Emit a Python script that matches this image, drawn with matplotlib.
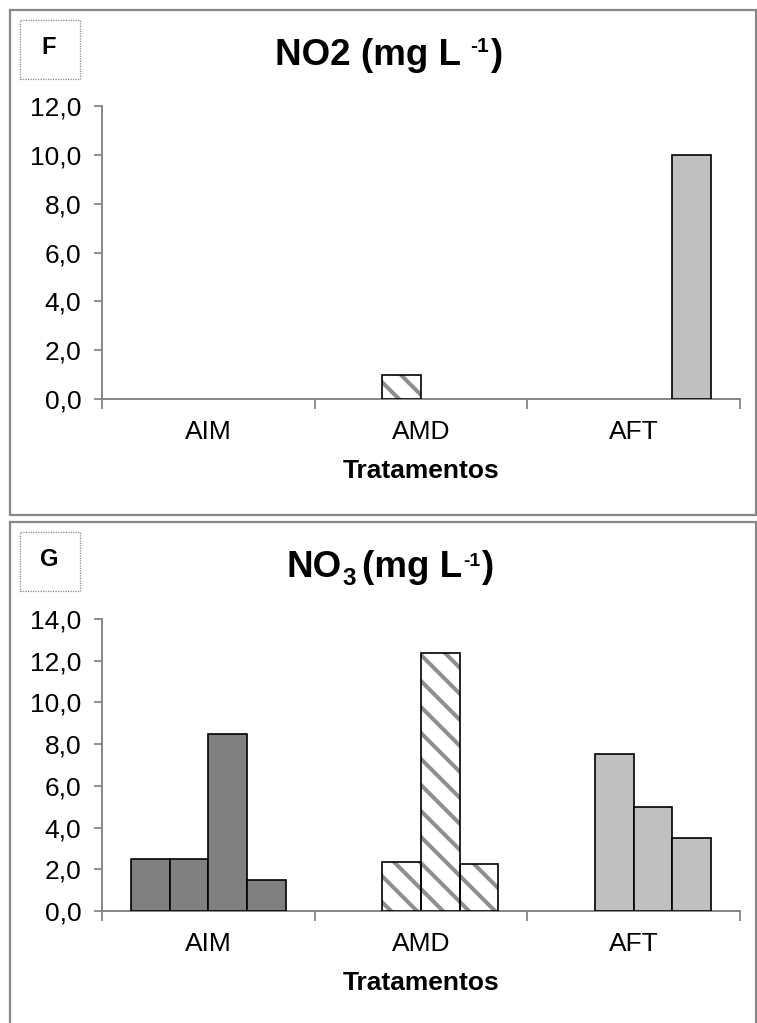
import numpy as np
import matplotlib
matplotlib.use("Agg")
import matplotlib.pyplot as plt
from matplotlib.patches import Rectangle

# ---------------- data ----------------
categories = ["AIM", "AMD", "AFT"]
# values per series slot (4 slots) across categories AIM, AMD, AFT
no2_s1 = [0.0, 0.0, 0.0]
no2_s2 = [0.0, 1.0, 0.0]
no2_s3 = [0.0, 0.0, 0.0]
no2_s4 = [0.0, 0.0, 10.0]

no3_s1 = [2.5, 0.0, 0.0]
no3_s2 = [2.5, 2.33, 7.53]
no3_s3 = [8.5, 12.35, 4.99]
no3_s4 = [1.5, 2.24, 3.5]

no2_yticks = [0, 2, 4, 6, 8, 10, 12]
no3_yticks = [0, 2, 4, 6, 8, 10, 12, 14]

panel_labels = ["F", "G"]
xlabel = "Tratamentos"

# ---------------- style ----------------
# a lower dpi makes the hatch tile (one inch) smaller -> denser stripes;
# all point sizes are scaled so the pixel result stays the same.
DPI = 78
K = 100 / DPI


def pt(v):
    return v * K


plt.rcParams['font.family'] = ['Liberation Sans', 'DejaVu Sans']
plt.rcParams['hatch.linewidth'] = pt(2.9)

W, H = 758, 1023
fig = plt.figure(figsize=(W / DPI, H / DPI), dpi=DPI)

cat_face = ['#808080', 'white', '#c0c0c0']
cat_hatch = [None, '\\', None]
axis_gray = '#868686'
hatch_gray = '#8f8f8f'
bar_w = 0.182
FS = pt(19)


def px(x, y):
    return x / W, 1 - y / H


def draw_panel(ax, series, yticks):
    x = np.arange(len(categories))
    for i, s in enumerate(series):
        vals = np.array(s, dtype=float)
        off = (i - (len(series) - 1) / 2) * bar_w
        for j, v in enumerate(vals):
            if v <= 0:
                continue
            if cat_hatch[j]:
                ax.bar(x[j] + off, v, width=bar_w, color=cat_face[j],
                       hatch=cat_hatch[j], edgecolor=hatch_gray,
                       linewidth=0, zorder=3)
                ax.bar(x[j] + off, v, width=bar_w, fill=False,
                       edgecolor='black', linewidth=pt(1.2), zorder=4)
            else:
                ax.bar(x[j] + off, v, width=bar_w, color=cat_face[j],
                       edgecolor='black', linewidth=pt(1.2), zorder=3)
    ax.set_xlim(-0.5, len(categories) - 0.5)
    ax.set_ylim(yticks[0], yticks[-1])
    ax.set_yticks(yticks)
    ax.set_yticklabels([f"{t:.1f}".replace('.', ',') for t in yticks],
                       fontsize=FS)
    ax.set_xticks(x)
    ax.set_xticklabels(categories, fontsize=FS)
    ax.set_xticks(np.arange(len(categories) + 1) - 0.5, minor=True)
    ax.tick_params(axis='x', which='major', length=0, pad=pt(15))
    ax.tick_params(axis='x', which='minor', length=pt(7), width=pt(1.3),
                   color=axis_gray, direction='out')
    ax.tick_params(axis='y', which='major', length=pt(6), width=pt(1.3),
                   color=axis_gray, direction='out', pad=pt(9))
    for side in ['top', 'right']:
        ax.spines[side].set_visible(False)
    for side in ['left', 'bottom']:
        ax.spines[side].set_color(axis_gray)
        ax.spines[side].set_linewidth(pt(1.4))
    ax.set_xlabel(xlabel, fontsize=FS, fontweight='bold', labelpad=pt(11))


# axes
l, b = px(102, 399.3)
ax1 = fig.add_axes([l, b, (740 - 102) / W, (399.3 - 105.7) / H])
draw_panel(ax1, [no2_s1, no2_s2, no2_s3, no2_s4], no2_yticks)

l, b = px(102, 911)
ax2 = fig.add_axes([l, b, (740 - 102) / W, (911 - 619) / H])
draw_panel(ax2, [no3_s1, no3_s2, no3_s3, no3_s4], no3_yticks)

renderer = fig.canvas.get_renderer()


def rich_title(pieces, cx_px, base_px):
    """pieces: (text, fontsize, dy_px (up positive), gap_before_px)"""
    texts = []
    total = 0.0
    for txt, fs, dy, gap in pieces:
        t = fig.text(0, 0, txt, fontsize=pt(fs), fontweight='bold',
                     ha='left', va='baseline')
        w = t.get_window_extent(renderer).width
        texts.append((t, w, dy, gap))
        total += gap + w
    x = cx_px - total / 2
    for t, w, dy, gap in texts:
        x += gap
        t.set_position(px(x, base_px - dy))
        x += w


big = 26.5
rich_title([("NO2 (mg L", big, 0, 0), ("-1", 15, 13, 9), (")", big, 0, 1)],
           389, 65)
rich_title([("NO", big, 0, 0), ("3", 17.5, -8, 1), ("(mg L", big, 0, 6),
            ("-1", 14, 11, 1), (")", big, 0, 1)], 390, 577)

# panel borders
border = '#878787'
for (x0, y0, x1, y1) in [(10, 10, 756, 515), (10, 522, 756, 1040)]:
    a0, b0 = px(x0, y1)
    a1, b1 = px(x1, y0)
    fig.patches.append(Rectangle((a0, b0), a1 - a0, b1 - b0,
                                 transform=fig.transFigure, fill=False,
                                 edgecolor=border, linewidth=pt(1.6)))

# label boxes
for lab, (x0, y0) in zip(panel_labels, [(20, 20), (20, 532)]):
    a0, b0 = px(x0, y0 + 59)
    fig.patches.append(Rectangle((a0, b0), 60 / W, 59 / H,
                                 transform=fig.transFigure, fill=False,
                                 edgecolor='#8a8a8a', linewidth=pt(0.9),
                                 linestyle=(0, (1, 1))))
    cx, cy = px(x0 + 29, y0 + 27)
    fig.text(cx, cy, lab, fontsize=pt(17), fontweight='bold',
             ha='center', va='center')

fig.savefig("out.png", dpi=DPI)
